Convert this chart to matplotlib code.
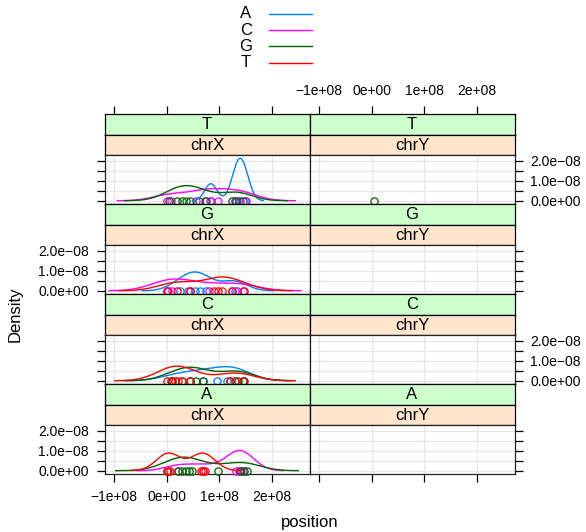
import numpy as np
import matplotlib
matplotlib.use("Agg")
import matplotlib.pyplot as plt
from matplotlib.lines import Line2D

plt.rcParams['font.family'] = ['Liberation Sans', 'DejaVu Sans']

# reference bases (colour groups) and their lattice colours
bases = ["A", "C", "G", "T"]
colors = ["#0080ff", "#ff00ff", "#006400", "#ff0000"]

# outer strip (alt base) top to bottom, inner strip (chromosome)
rows = ["T", "G", "C", "A"]
chroms = ["chrX", "chrY"]

# variant positions in Mb, named <row>_<chrom>_<group>
T_chrX_A = [84, 131, 140, 149]
T_chrX_C = [0.5, 8, 55, 72, 82, 98, 130, 138, 151]
T_chrX_G = [5, 20, 30, 37, 45, 62, 75, 125, 132, 145]
T_chrY_G = [4.4]

G_chrX_A = [25, 40, 54, 64, 75, 124, 133]
G_chrX_C = [1, 3, 10, 45, 80, 130, 145]
G_chrX_T = [0.5, 20, 45, 90, 98, 105, 125, 147]

C_chrX_A = [10, 45, 70, 95, 115, 130, 145]
C_chrX_G = [10, 30, 45, 55, 70, 120, 135, 148]
C_chrX_T = [1, 8, 15, 22, 30, 45, 120, 130, 145]

A_chrX_C = [22, 70, 132, 137, 142, 145]
A_chrX_G = [0.5, 22, 30, 36, 42, 48, 98, 140, 147, 153]
A_chrX_T = [0.5, 3, 6, 66, 69, 72]

data = {
    ("T", "chrX"): {"A": T_chrX_A, "C": T_chrX_C, "G": T_chrX_G},
    ("T", "chrY"): {"G": T_chrY_G},
    ("G", "chrX"): {"A": G_chrX_A, "C": G_chrX_C, "T": G_chrX_T},
    ("C", "chrX"): {"A": C_chrX_A, "G": C_chrX_G, "T": C_chrX_T},
    ("A", "chrX"): {"C": A_chrX_C, "G": A_chrX_G, "T": A_chrX_T},
}

xticks = [-1e8, 0, 1e8, 2e8]
xticklabels = ["\u22121e+08", "0e+00", "1e+08", "2e+08"]
yticks = [0, 0.5e-8, 1e-8, 1.5e-8, 2e-8]
yticklabels = ["0.0e+00", "", "1.0e\u221208", "", "2.0e\u221208"]


def density(x):
    # same as R density(): gaussian kernel, bw.nrd0, cut = 3
    x = np.asarray(x, float)
    n = len(x)
    q1, q3 = np.percentile(x, [25, 75])
    lo = min(x.std(ddof=1), (q3 - q1) / 1.34)
    bw = 0.9 * lo * n ** -0.2
    grid = np.linspace(x.min() - 3 * bw, x.max() + 3 * bw, 512)
    y = np.exp(-0.5 * ((grid[:, None] - x[None, :]) / bw) ** 2).sum(1)
    return grid, y / (n * bw * np.sqrt(2 * np.pi))


W, H = 586, 532
fig = plt.figure(figsize=(W / 100, H / 100), dpi=100)


def rect(x0, y0, x1, y1):
    return [x0 / W, 1 - y1 / H, (x1 - x0) / W, (y1 - y0) / H]


col_x = [(104.5, 309.5), (309.5, 514.5)]
xlim = (-1.185e8, 2.72e8)
ylim = (-0.179e-8, 2.274e-8)
tick_len = 5.8
tick_pad = 5.6

for r, alt in enumerate(rows):
    top = 114.3 + 90 * r
    for c, chrom in enumerate(chroms):
        x0, x1 = col_x[c]
        # strips
        for k, (y0, y1, fc, txt) in enumerate([(top, top + 20.4, "#ccffcc", alt),
                                                 (top + 20.4, top + 41, "#ffe5cc", chrom)]):
            sa = fig.add_axes(rect(x0, y0, x1, y1))
            sa.set_facecolor(fc)
            sa.set_xlim(xlim)
            sa.set_ylim(0, 1)
            sa.set_yticks([])
            for s in sa.spines.values():
                s.set_linewidth(0.9)
            sa.text(0.5, 0.48, txt, transform=sa.transAxes, ha="center",
                    va="center", fontsize=12)
            if r == 0 and k == 0:
                sa.set_xticks(xticks)
                sa.set_xticklabels(xticklabels)
                sa.tick_params(axis="x", top=True, bottom=False, labeltop=(c == 1),
                               labelbottom=False, direction="out", length=tick_len,
                               width=0.9, pad=tick_pad, labelsize=10)
            else:
                sa.set_xticks([])

        # panel
        ax = fig.add_axes(rect(x0, top + 41, x1, top + 90))
        ax.set_xlim(xlim)
        ax.set_ylim(ylim)
        for xv in xticks:
            ax.axvline(xv, color="#e6e6e6", lw=0.9, zorder=0)
        for yv in yticks:
            ax.axhline(yv, color="#e6e6e6", lw=0.9, zorder=0)

        groups = data.get((alt, chrom), {})
        for b, col in zip(bases, colors):
            if b not in groups:
                continue
            pts = np.array(groups[b]) * 1e6
            ax.plot(pts, np.zeros_like(pts), "o", mfc="none", mec=col,
                    ms=5.2, mew=0.9, clip_on=False, zorder=3)
            if len(pts) > 1:
                gx, gy = density(pts)
                ax.plot(gx, gy, color=col, lw=1.0, zorder=4)

        for s in ax.spines.values():
            s.set_linewidth(0.9)
            s.set_color("#222222")

        ax.set_xticks(xticks)
        ax.set_xticklabels(xticklabels if (r == 3 and c == 0) else [""] * 4)
        ax.tick_params(axis="x", bottom=(r == 3), top=False,
                       labelbottom=(r == 3 and c == 0), direction="out",
                       length=tick_len, width=0.9, pad=tick_pad, labelsize=10)
        ax.set_yticks(yticks)
        ax.set_yticklabels(yticklabels)
        if c == 0:
            ax.tick_params(axis="y", left=True, right=False, labelleft=(r % 2 == 1),
                           labelright=False, direction="out", length=tick_len,
                           width=0.9, pad=tick_pad, labelsize=10)
        else:
            ax.tick_params(axis="y", left=False, right=True, labelleft=False,
                           labelright=(r % 2 == 0), direction="out", length=tick_len,
                           width=0.9, pad=tick_pad, labelsize=10)

# key at the top
for i, (b, col) in enumerate(zip(bases, colors)):
    yy = 13.8 + 16.3 * i
    fig.text(245.7 / W, 1 - yy / H, b, ha="center", va="center", fontsize=12)
    fig.add_artist(Line2D([269.3 / W, 312.3 / W], [1 - yy / H] * 2, color=col, lw=1.0))

fig.text(15 / W, 1 - 314 / H, "Density", rotation=90, ha="center", va="center", fontsize=12)
fig.text(310 / W, 1 - 522 / H, "position", ha="center", va="center", fontsize=12)

fig.savefig("out.png", dpi=100)
